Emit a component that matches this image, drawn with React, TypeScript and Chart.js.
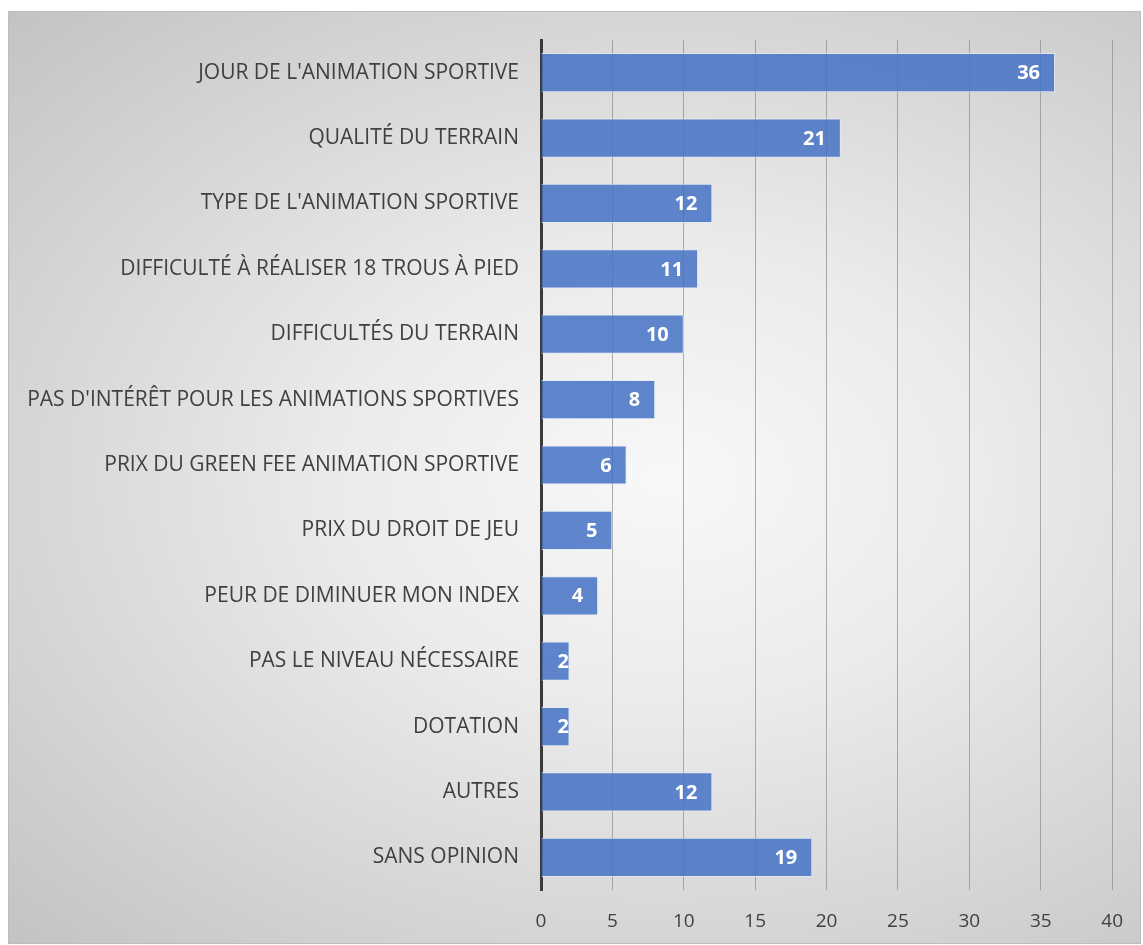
import React, { useEffect, useRef } from "react";
import { Chart, registerables } from "chart.js";

Chart.register(...registerables);

const categories: string[] = [
  "JOUR DE L'ANIMATION SPORTIVE",
  "QUALITÉ DU TERRAIN",
  "TYPE DE L'ANIMATION SPORTIVE",
  "DIFFICULTÉ À RÉALISER 18 TROUS À PIED",
  "DIFFICULTÉS DU TERRAIN",
  "PAS D'INTÉRÊT POUR LES ANIMATIONS SPORTIVES",
  "PRIX DU GREEN FEE ANIMATION SPORTIVE",
  "PRIX DU DROIT DE JEU",
  "PEUR DE DIMINUER MON INDEX",
  "PAS LE NIVEAU NÉCESSAIRE",
  "DOTATION",
  "AUTRES",
  "SANS OPINION",
];

const values: number[] = [36, 21, 12, 11, 10, 8, 6, 5, 4, 2, 2, 12, 19];

const xMin = 0;
const xMax = 40;
const xStep = 5;

const FONT = "'Open Sans', 'Noto Sans', sans-serif";

const valueLabels = {
  id: "valueLabels",
  afterDatasetsDraw(chart: any) {
    const ctx = chart.ctx;
    const meta = chart.getDatasetMeta(0);
    ctx.save();
    ctx.font = `bold 20px ${FONT}`;
    ctx.fillStyle = "#ffffff";
    ctx.textBaseline = "middle";
    ctx.textAlign = "left";
    meta.data.forEach((el: any, i: number) => {
      const text = String(values[i]);
      const w = ctx.measureText(text).width;
      let left = el.x - 15 - w;
      if (left < el.base + 16) left = el.base + 16;
      ctx.fillText(text, left, el.y + 1);
    });
    ctx.restore();
  },
};

export default function App() {
  const ref = useRef<HTMLCanvasElement | null>(null);

  useEffect(() => {
    if (!ref.current) return;
    const chart = new Chart(ref.current, {
      type: "bar",
      data: {
        labels: categories,
        datasets: [
          {
            data: values,
            backgroundColor: "rgba(68,114,196,0.85)",
            borderColor: "rgba(225,232,246,0.8)",
            borderWidth: 1,
            borderSkipped: "start",
            barPercentage: 0.6,
            categoryPercentage: 1,
          },
        ],
      },
      options: {
        indexAxis: "y",
        responsive: false,
        animation: false,
        maintainAspectRatio: false,
        layout: { padding: { top: 40, right: 30, bottom: 0, left: 0 } },
        plugins: {
          legend: { display: false },
          tooltip: { enabled: false },
          title: { display: false },
        },
        scales: {
          x: {
            min: xMin,
            max: xMax,
            ticks: {
              stepSize: xStep,
              color: "#404040",
              font: { family: FONT, size: 19 },
              padding: 20,
            },
            grid: {
              color: "rgba(140,140,140,0.7)",
              lineWidth: 1,
              drawTicks: false,
            },
            border: { display: false },
            afterFit(scale: any) {
              scale.height = 55;
            },
          },
          y: {
            ticks: {
              color: "#404040",
              font: { family: FONT, size: 21 },
              padding: 22,
              autoSkip: false,
            },
            grid: { display: false, drawTicks: false },
            border: { display: true, color: "#3a3a3a", width: 3 },
            afterFit(scale: any) {
              scale.width = 541;
            },
          },
        },
      },
      plugins: [valueLabels],
    });
    return () => chart.destroy();
  }, []);

  return (
    <div>
      <div
        style={{
          position: "absolute",
          left: 8,
          top: 11,
          width: 1133,
          height: 933,
          boxSizing: "border-box",
          border: "1px solid #bdbdbd",
          background:
            "radial-gradient(ellipse farthest-corner at 58% 50%, #f8f8f8 0%, #ebebeb 35%, #c3c3c3 100%)",
        }}
      />
      <canvas
        ref={ref}
        width={1143}
        height={945}
        style={{ position: "absolute", left: 0, top: 0, width: 1143, height: 945 }}
      />
    </div>
  );
}
